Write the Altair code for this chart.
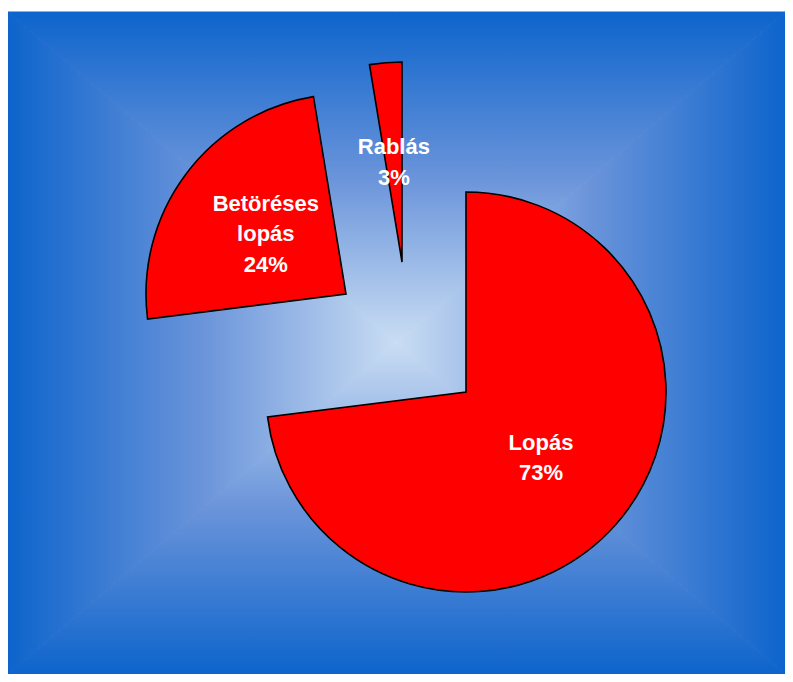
import math
import altair as alt
import pandas as pd

# ---- data ----
categories = ["Lopás", "Betöréses lopás", "Rablás"]
shares = [73.0, 24.4, 2.6]
label_texts = ["Lopás\n73%", "Betöréses\nlopás\n24%", "Rablás\n3%"]

# ---- table for the library ----
ends, acc = [], 0.0
for v in shares:
    acc += v
    ends.append(acc)
starts = [e - v for e, v in zip(ends, shares)]
mids = [(s + e) / 2 for s, e in zip(starts, ends)]
df = pd.DataFrame({
    "category": categories,
    "share": shares,
    "start": starts,
    "end": ends,
    "mid": mids,
    "label": label_texts,
})

W, H = 777, 662
PIE_R = 200
LABEL_R = 100
LINE_H = 30.5
# centre of each (exploded) slice, in view pixels
centres = {
    "Lopás": (458, 380),
    "Betöréses lopás": (338, 282),
    "Rablás": (394, 250),
}

theta_scale = alt.Scale(domain=[0, 100], range=[0, 2 * math.pi])

EDGE = "#0D64CC"
MIDC = "#6A94DA"
CENTER = "#C9DDF3"


def grad(x1, y1, x2, y2):
    return alt.LinearGradient(
        gradient="linear",
        stops=[
            alt.GradientStop(color=EDGE, offset=0),
            alt.GradientStop(color=MIDC, offset=0.5),
            alt.GradientStop(color=CENTER, offset=1),
        ],
        x1=x1, y1=y1, x2=x2, y2=y2,
    )


xs = alt.Scale(domain=[0, 1], nice=False, zero=False)
ys = alt.Scale(domain=[0, 1], nice=False, zero=False)

# rectangular "from centre" background gradient built of four triangles
top_tri = pd.DataFrame({"x": [0, 0.5, 1], "y": [1, 0.5, 1], "b": [1, 1, 1]})
bot_tri = pd.DataFrame({"x": [0, 0.5, 1], "y": [0, 0.5, 0], "b": [0, 0, 0]})
left_tri = pd.DataFrame({"y": [0, 0.5, 1], "x": [0, 0.5, 0], "b": [0, 0, 0]})
right_tri = pd.DataFrame({"y": [0, 0.5, 1], "x": [1, 0.5, 1], "b": [1, 1, 1]})


def tri_mark(g, **kw):
    return dict(fill=g, stroke=g, strokeWidth=1, **kw)


g_top, g_bot, g_left, g_right = grad(0, 0, 0, 1), grad(0, 1, 0, 0), grad(0, 0, 1, 0), grad(1, 0, 0, 0)

bg_top = alt.Chart(top_tri).mark_area(**tri_mark(g_top)).encode(
    x=alt.X("x:Q", scale=xs, axis=None),
    y=alt.Y("y:Q", scale=ys, axis=None),
    y2="b:Q",
)
bg_bot = alt.Chart(bot_tri).mark_area(**tri_mark(g_bot)).encode(
    x=alt.X("x:Q", scale=xs, axis=None),
    y=alt.Y("y:Q", scale=ys, axis=None),
    y2="b:Q",
)
bg_left = alt.Chart(left_tri).mark_area(**tri_mark(g_left, orient="horizontal")).encode(
    y=alt.Y("y:Q", scale=ys, axis=None),
    x=alt.X("x:Q", scale=xs, axis=None),
    x2="b:Q",
)
bg_right = alt.Chart(right_tri).mark_area(**tri_mark(g_right, orient="horizontal")).encode(
    y=alt.Y("y:Q", scale=ys, axis=None),
    x=alt.X("x:Q", scale=xs, axis=None),
    x2="b:Q",
)

layers = [bg_top, bg_bot, bg_left, bg_right]

for cat in categories:
    cx, cy = centres[cat]
    layers.append(
        alt.Chart(df).transform_filter(alt.datum.category == cat)
        .mark_arc(radius=PIE_R, fill="#FF0000", stroke="#000000", strokeWidth=1.6)
        .encode(
            theta=alt.Theta("start:Q", scale=theta_scale),
            theta2="end:Q",
            x=alt.value(cx),
            y=alt.value(cy),
        )
    )

for cat, txt in zip(categories, label_texts):
    cx, cy = centres[cat]
    n_lines = txt.count("\n") + 1
    layers.append(
        alt.Chart(df).transform_filter(alt.datum.category == cat)
        .mark_text(
            font="Liberation Sans", fontWeight="bold", fontSize=22,
            color="white", lineBreak="\n", lineHeight=LINE_H,
            align="center", baseline="middle",
            dy=-(n_lines - 1) / 2 * LINE_H,
        )
        .encode(
            theta=alt.Theta("mid:Q", scale=theta_scale),
            radius=alt.value(LABEL_R),
            text="label:N",
            x=alt.value(cx),
            y=alt.value(cy),
        )
    )

chart = alt.layer(*layers).properties(
    width=W, height=H,
    autosize=alt.AutoSizeParams(type="none"),
    padding={"left": 0, "top": 4, "right": 0, "bottom": 0},
).configure_view(stroke=None)

chart.save("out.html", embed_options={"renderer": "svg", "actions": False})
